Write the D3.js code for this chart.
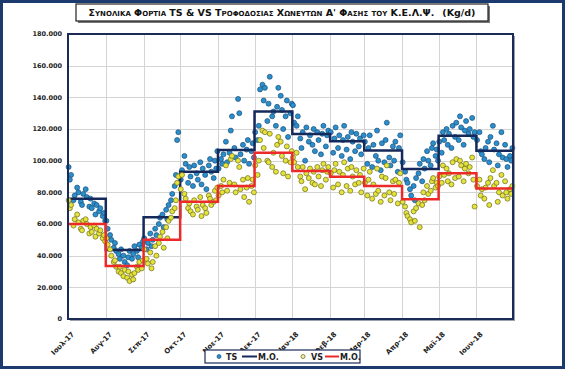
<!DOCTYPE html>
<html>
<head>
<meta charset="utf-8">
<script src="https://cdn.jsdelivr.net/npm/d3@7"></script>
<style>
    body { margin: 0; background: #fff; }
    svg { display: block; }
</style>
</head>
<body>
<div id="svgContainer"></div>
<script>

// month categories (axis labels)
const monthLabels = ["Ιουλ-17", "Αυγ-17", "Σεπ-17", "Οκτ-17", "Νοε-17", "Δεκ-17",
    "Ιαν-18", "Φεβ-18", "Μαρ-18", "Απρ-18", "Μαϊ-18", "Ιουν-18"];

const yTicks = [0, 20000, 40000, 60000, 80000, 100000, 120000, 140000, 160000, 180000];

// monthly mean (Μ.Ο.), thousand kg/d
const tsMeans = [76, 43.6, 64.2, 93, 106.7, 131, 116.8, 112.2, 106.5, 94.7, 115.8, 106.3];
const vsMeans = [60, 33.5, 50, 74, 84, 105, 93.5, 89.9, 84, 75.6, 92, 82.5];

// daily TS load, thousand kg/d, one row per month (null = no sample)
const tsDaily = [
    [96, 88, 91, null, 75, 78, null, 83, 80, null, 74, 72, 79, null, 82, 77, null, 71, 76, 70, null, 73, 66, 72, null, 68, 70, null, 65, 67, 62],
    [62, 57, null, 53, 50, null, 45, 48, 43, null, 41, 38, 44, null, 40, 36, null, 34, 39, 43, null, 38, 41, 46, null, 43, 39, 47, null, 45, 49],
    [51, null, 44, 48, null, 54, 46, 50, null, 57, 53, null, 60, 64, null, 66, 58, null, 69, 63, 72, null, 75, 79, null, 84, 91, 113, 118, null],
    [88, 94, null, 103, 98, null, 86, 96, 90, null, 84, 97, null, 92, 88, null, 99, 85, 95, null, 91, 82, null, 97, 101, 93, null, 89, 100, 95, 106],
    [95, null, 101, 98, 104, null, 112, 99, null, 105, 119, 128, null, 108, 102, null, 139, 130, 104, null, 110, 100, null, 107, 113, 98, null, 106, 111, 102],
    [118, null, 113, 122, 145, null, 148, 138, 146, null, 125, 136, 153, null, 128, 131, null, 122, 134, 146, null, 141, 132, 120, null, 128, 138, 115, null, 130, 136],
    [135, 124, null, 122, 128, null, 114, 108, 118, null, 100, 121, null, 112, 116, null, 110, 120, 106, null, 118, 113, null, 104, 117, 122, null, 109, 116, 119, null],
    [118, null, 105, 114, 121, null, 108, 116, null, 103, 113, 122, null, 107, 115, null, 101, 118, 112, null, 106, 117, null, 109, 114, 104, null, 116],
    [112, null, 98, 108, 116, null, 96, 110, null, 103, 119, 100, null, 94, 111, null, 99, 113, 124, null, 102, 97, null, 109, 100, 112, null, 93, 108, 116, null],
    [99, null, 93, 88, 86, null, 82, 78, null, 84, 75, 89, null, 92, 98, null, 87, 101, 95, null, 106, 100, null, 97, 108, 111, null, 103, 107, 100],
    [112, null, 105, 118, 113, null, 120, 110, 117, null, 108, 122, null, 115, 124, null, 113, 128, 121, null, 110, 119, 125, null, 117, 120, null, 127, 115, 118, null],
    [113, null, 118, 106, 104, null, 101, 108, null, 112, 99, 115, null, 122, 107, null, 111, 97, 104, null, 118, 102, null, 110, 101, 96, null, 103, 100, 108]
];

// daily VS load, thousand kg/d
const vsDaily = [
    [75, 70, 72, null, 59, 63, null, 66, 61, null, 57, 56, 62, null, 63, 60, null, 54, 58, 55, null, 59, 52, 57, null, 54, 56, null, 51, 53, 49],
    [51, 47, null, 44, 40, null, 36, 37, 33, null, 30, 33, 29, null, 27, 31, null, 26, 30, 24, null, 28, 25, 29, null, 33, 31, 36, null, 32, 37],
    [44, null, 38, 35, null, 42, 32, 36, null, 46, 40, null, 48, 52, null, 55, 45, null, 58, 51, 62, null, 64, 68, null, 70, 75, 86, 90, null],
    [82, 91, null, 79, 76, null, 70, 73, 68, null, 66, 75, null, 71, 69, null, 77, 65, 72, null, 70, 67, null, 78, 76, 72, null, 74, 81, 75, 83],
    [78, null, 84, 80, 88, null, 97, 81, null, 86, 101, 103, null, 85, 80, null, 100, 96, 82, null, 88, 77, null, 83, 89, 74, null, 84, 88, 80],
    [97, null, 91, 100, 113, null, 119, 108, 118, null, 100, 99, 117, null, 96, 105, null, 93, 110, 115, null, 112, 103, 92, null, 100, 109, 90, null, 99, 106],
    [102, 99, null, 105, 96, null, 90, 87, 96, null, 82, 92, null, 89, 95, null, 86, 93, 85, null, 96, 90, null, 84, 94, 98, null, 88, 93, 96, null],
    [92, null, 83, 94, 98, null, 85, 93, null, 80, 91, 99, null, 84, 95, null, 81, 96, 90, null, 85, 94, null, 86, 91, 80, null, 95],
    [86, null, 78, 88, 93, null, 76, 85, null, 79, 95, 81, null, 74, 90, null, 78, 89, 97, null, 80, 75, null, 87, 79, 88, null, 73, 86, 92, null],
    [74, null, 71, 67, 65, null, 63, 61, null, 68, 62, 70, null, 73, 58, null, 72, 80, 75, null, 84, 79, null, 81, 87, 89, null, 83, 86, 84],
    [90, null, 86, 97, 91, null, 95, 87, 92, null, 85, 99, null, 89, 101, null, 90, 100, 97, null, 87, 95, 98, null, 92, 96, null, 102, 88, 71, null],
    [84, null, 88, 78, 82, null, 76, 83, null, 86, 72, 89, null, 94, 84, null, 86, 74, 80, null, 91, 78, null, 87, 80, 76, null, 82, 79, 84]
];

class LoadChart {

    constructor() {
        this._width = 566;
        this._height = 370;
        this._plot = { left: 68, right: 513, top: 34, bottom: 319 };
        this._initSVG()
            ._initScales()
            ._drawFrame()
            ._drawTitle()
            ._drawGrid()
            ._drawAxes()
            ._drawSeries()
            ._drawLegend();
    }

    _initSVG() {
        this._svg = d3.select("#svgContainer").append("svg")
            .attr("width", this._width)
            .attr("height", this._height)
            .attr("font-family", "'DejaVu Sans', Verdana, sans-serif");
        return this;
    }

    _initScales() {
        const p = this._plot;
        this._start = new Date(2017, 6, 1);
        this._end = new Date(2018, 6, 1);
        this._x = d3.scaleTime().domain([this._start, this._end]).range([p.left, p.right]);
        this._y = d3.scaleLinear().domain([0, 180000]).range([p.bottom, p.top]);
        this._months = d3.timeMonth.range(this._start, this._end);
        return this;
    }

    _drawFrame() {
        this._svg.append("rect")
            .attr("x", 1.5).attr("y", 1.5)
            .attr("width", this._width - 4).attr("height", this._height - 4)
            .attr("fill", "#fff")
            .attr("stroke", "#1d3a6e")
            .attr("stroke-width", 3);
        return this;
    }

    _drawTitle() {
        const g = this._svg.append("g");
        g.append("rect")
            .attr("x", 78).attr("y", 6).attr("width", 412).attr("height", 17)
            .attr("fill", "#777");
        g.append("rect")
            .attr("x", 76).attr("y", 4).attr("width", 412).attr("height", 17)
            .attr("fill", "#fff").attr("stroke", "#222").attr("stroke-width", 1.2);
        const t = g.append("text")
            .attr("x", 282).attr("y", 16)
            .attr("text-anchor", "middle")
            .attr("font-size", 9.5)
            .attr("font-weight", "bold")
            .attr("fill", "#111");
        t.append("tspan")
            .style("font-variant", "small-caps")
            .text("Συνολικα Φορτια TS & VS Τροφοδοσιας Χωνευτων Α' Φασης του Κ.Ε.Λ.Ψ.");
        t.append("tspan").attr("dx", 8).text("(Kg/d)");
        return this;
    }

    _drawGrid() {
        const p = this._plot;
        const grid = this._svg.append("g")
            .attr("stroke", "#d4d4d4")
            .attr("stroke-width", 1);
        grid.selectAll("line.h")
            .data(yTicks.slice(1, -1))
            .enter().append("line")
            .attr("x1", p.left).attr("x2", p.right)
            .attr("y1", d => Math.round(this._y(d)) + 0.5)
            .attr("y2", d => Math.round(this._y(d)) + 0.5);
        grid.selectAll("line.v")
            .data(this._months.slice(1))
            .enter().append("line")
            .attr("y1", p.top).attr("y2", p.bottom)
            .attr("x1", d => Math.round(this._x(d)) + 0.5)
            .attr("x2", d => Math.round(this._x(d)) + 0.5);
        return this;
    }

    _drawAxes() {
        const p = this._plot;
        const fmt = d3.formatLocale({ decimal: ",", thousands: ".", grouping: [3], currency: ["", ""] }).format(",");

        this._svg.append("g")
            .attr("font-size", 6.5)
            .attr("font-weight", "bold")
            .attr("fill", "#222")
            .attr("text-anchor", "end")
            .selectAll("text")
            .data(yTicks)
            .enter().append("text")
            .attr("x", p.left - 6)
            .attr("y", d => this._y(d))
            .attr("dy", "0.35em")
            .text(d => fmt(d));

        this._svg.append("g")
            .attr("font-size", 7)
            .attr("font-weight", "bold")
            .attr("fill", "#222")
            .attr("text-anchor", "end")
            .selectAll("text")
            .data(this._months)
            .enter().append("text")
            .attr("transform", d => "translate(" + (this._x(d) + 5) + "," + (p.bottom + 14) + ") rotate(-45)")
            .attr("dy", "0.35em")
            .text((d, i) => monthLabels[i]);
        return this;
    }

    _points(rows) {
        let out = [];
        rows.forEach((row, m) => {
            row.forEach((v, i) => {
                if (v === null) return;
                out.push({ date: new Date(2017, 6 + m, i + 1, 12), value: v * 1000 });
            });
        });
        return out;
    }

    _steps(means) {
        let pts = means.map((v, i) => ({ date: this._months[i], value: v * 1000 }));
        pts.push({ date: this._end, value: means[means.length - 1] * 1000 });
        return pts;
    }

    _drawSeries() {
        const p = this._plot;
        // plot area shadow + border
        this._svg.insert("rect", "g")
            .attr("x", p.left + 2).attr("y", p.top + 2)
            .attr("width", p.right - p.left).attr("height", p.bottom - p.top)
            .attr("fill", "#9aa0ad");
        this._svg.insert("rect", "g")
            .attr("x", p.left).attr("y", p.top)
            .attr("width", p.right - p.left).attr("height", p.bottom - p.top)
            .attr("fill", "#fff");

        const line = d3.line()
            .x(d => this._x(d.date))
            .y(d => this._y(d.value))
            .curve(d3.curveStepAfter);

        this._dots(this._points(tsDaily), "#2a8fcb", "#1b4f7c");
        this._svg.append("path")
            .datum(this._steps(tsMeans))
            .attr("fill", "none")
            .attr("stroke", "#15295a")
            .attr("stroke-width", 2.5)
            .attr("d", line);

        this._dots(this._points(vsDaily), "#e4e33c", "#6f6c1c");
        this._svg.append("path")
            .datum(this._steps(vsMeans))
            .attr("fill", "none")
            .attr("stroke", "#ec2a2a")
            .attr("stroke-width", 2.5)
            .attr("d", line);

        this._svg.append("rect")
            .attr("x", p.left).attr("y", p.top)
            .attr("width", p.right - p.left).attr("height", p.bottom - p.top)
            .attr("fill", "none")
            .attr("stroke", "#1c2b55")
            .attr("stroke-width", 2);
        return this;
    }

    _dots(data, fill, stroke) {
        this._svg.append("g")
            .selectAll("circle")
            .data(data)
            .enter().append("circle")
            .attr("cx", d => this._x(d.date))
            .attr("cy", d => this._y(d.value))
            .attr("r", 2.5)
            .attr("fill", fill)
            .attr("stroke", stroke)
            .attr("stroke-width", 0.7);
    }

    _drawLegend() {
        const g = this._svg.append("g").attr("transform", "translate(205,350)");
        g.append("rect")
            .attr("width", 155).attr("height", 13)
            .attr("fill", "#fff")
            .attr("stroke", "#1c2b55")
            .attr("stroke-width", 1.2);

        const txt = g.append("g")
            .attr("font-size", 8)
            .attr("font-weight", "bold")
            .attr("fill", "#222");

        g.append("circle").attr("cx", 14).attr("cy", 6.5).attr("r", 2)
            .attr("fill", "#2a8fcb").attr("stroke", "#1b4f7c").attr("stroke-width", 0.7);
        txt.append("text").attr("x", 21).attr("y", 9.5).text("TS");
        g.append("line").attr("x1", 37).attr("x2", 52).attr("y1", 6.5).attr("y2", 6.5)
            .attr("stroke", "#15295a").attr("stroke-width", 2);
        txt.append("text").attr("x", 53).attr("y", 9.5).text("M.O.");
        g.append("circle").attr("cx", 98).attr("cy", 6.5).attr("r", 2)
            .attr("fill", "#f3f2b0").attr("stroke", "#6f6c1c").attr("stroke-width", 0.8);
        txt.append("text").attr("x", 106).attr("y", 9.5).text("VS");
        g.append("line").attr("x1", 120).attr("x2", 134).attr("y1", 6.5).attr("y2", 6.5)
            .attr("stroke", "#ec2a2a").attr("stroke-width", 2);
        txt.append("text").attr("x", 135).attr("y", 9.5).text("M.O.");
        return this;
    }
}

new LoadChart();
</script>
</body>
</html>
